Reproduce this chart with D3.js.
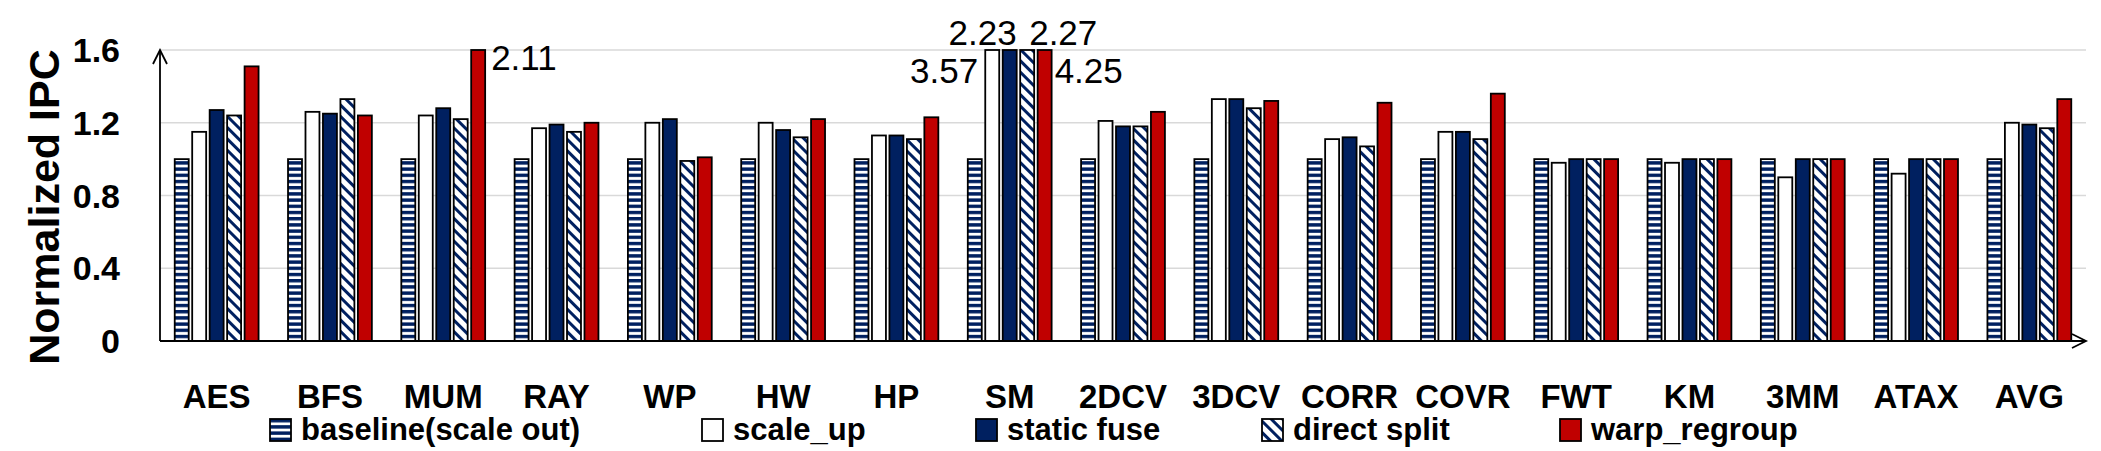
<!DOCTYPE html>
<html>
<head>
<meta charset="utf-8">
<script src="https://cdn.jsdelivr.net/npm/d3@7"></script>
<style>
  html, body { margin: 0; padding: 0; background: #fff; }
  svg { display: block; font-family: "Liberation Sans", Arial, sans-serif; }
</style>
</head>
<body>
<div id="chart"></div>
<script>
// benchmarks on the x axis
var categories = ["AES","BFS","MUM","RAY","WP","HW","HP","SM","2DCV","3DCV","CORR","COVR","FWT","KM","3MM","ATAX","AVG"];
var seriesNames = ["baseline(scale out)","scale_up","static fuse","direct split","warp_regroup"];
var yTicks = [0, 0.4, 0.8, 1.2, 1.6];

// normalized IPC
var baseline    = [1.00,1.00,1.00,1.00,1.00,1.00,1.00,1.00,1.00,1.00,1.00,1.00,1.00,1.00,1.00,1.00,1.00];
var scaleUp     = [1.15,1.26,1.24,1.17,1.20,1.20,1.13,3.57,1.21,1.33,1.11,1.15,0.98,0.98,0.90,0.92,1.20];
var staticFuse  = [1.27,1.25,1.28,1.19,1.22,1.16,1.13,2.23,1.18,1.33,1.12,1.15,1.00,1.00,1.00,1.00,1.19];
var directSplit = [1.24,1.33,1.22,1.15,0.99,1.12,1.11,2.27,1.18,1.28,1.07,1.11,1.00,1.00,1.00,1.00,1.17];
var warpRegroup = [1.51,1.24,2.11,1.20,1.01,1.22,1.23,4.25,1.26,1.32,1.31,1.36,1.00,1.00,1.00,1.00,1.33];

var seriesValues = [baseline, scaleUp, staticFuse, directSplit, warpRegroup];

var W = 2101, H = 451,
    plotL = 160, plotR = 2086, plotT = 50, plotB = 341,
    navy = "#002060", red = "#c00000";

var svg = d3.select("#chart").append("svg")
    .attr("width", W)
    .attr("height", H);

var defs = svg.append("defs");

// horizontal stripes for the baseline
var hp = defs.append("pattern").attr("id", "hstripe")
    .attr("patternUnits", "userSpaceOnUse")
    .attr("width", 8).attr("height", 6.2);
hp.append("rect").attr("width", 8).attr("height", 6.2).attr("fill", "#fff");
hp.append("rect").attr("y", 0).attr("width", 8).attr("height", 3.4).attr("fill", navy);

// diagonal stripes for direct split
var dp = defs.append("pattern").attr("id", "dstripe")
    .attr("patternUnits", "userSpaceOnUse")
    .attr("width", 8).attr("height", 8)
    .attr("patternTransform", "rotate(45)");
dp.append("rect").attr("width", 8).attr("height", 8).attr("fill", "#fff");
dp.append("rect").attr("width", 8).attr("height", 3).attr("fill", navy);

var fills = ["url(#hstripe)", "#fff", navy, "url(#dstripe)", red];

var x0 = d3.scaleBand()
    .domain(categories)
    .range([plotL, plotR])
    .paddingInner(0.26)
    .paddingOuter(0.13);

var x1 = d3.scaleBand()
    .domain(d3.range(seriesNames.length))
    .range([0, x0.bandwidth()])
    .paddingInner(0.2);

var y = d3.scaleLinear()
    .domain([0, 1.6])
    .range([plotB, plotT])
    .clamp(true);

// gridlines
svg.append("g")
    .selectAll("line")
    .data(yTicks.filter(function(d) { return d > 0; }))
    .enter().append("line")
    .attr("x1", plotL).attr("x2", plotR)
    .attr("y1", function(d) { return y(d); })
    .attr("y2", function(d) { return y(d); })
    .attr("stroke", "#d9d9d9")
    .attr("stroke-width", 1.5);

// y tick labels
svg.append("g")
    .selectAll("text")
    .data(yTicks)
    .enter().append("text")
    .attr("x", 120)
    .attr("y", function(d) { return y(d); })
    .attr("dy", "0.36em")
    .attr("text-anchor", "end")
    .attr("font-size", 34)
    .attr("font-weight", "bold")
    .text(function(d) { return d === 0 ? "0" : d3.format(".1f")(d); });

// y title
svg.append("text")
    .attr("transform", "translate(59,207) rotate(-90)")
    .attr("text-anchor", "middle")
    .attr("font-size", 43)
    .attr("font-weight", "bold")
    .text("Normalized IPC");

// bars
var rows = [];
categories.forEach(function(c, i) {
    seriesValues.forEach(function(vals, s) {
        rows.push({cat: c, s: s, value: vals[i]});
    });
});

svg.append("g")
    .selectAll("rect")
    .data(rows)
    .enter().append("rect")
    .attr("x", function(d) { return x0(d.cat) + x1(d.s); })
    .attr("y", function(d) { return y(d.value); })
    .attr("width", x1.bandwidth())
    .attr("height", function(d) { return plotB - y(d.value); })
    .attr("fill", function(d) { return fills[d.s]; })
    .attr("stroke", "#000")
    .attr("stroke-width", 1.8);

// axes with open arrowheads
var axis = svg.append("g").attr("fill", "none").attr("stroke", "#000").attr("stroke-width", 1.8);
axis.append("line").attr("x1", plotL).attr("y1", plotB).attr("x2", plotL).attr("y2", plotT);
axis.append("path").attr("d", "M" + (plotL - 7) + "," + (plotT + 14) + "L" + plotL + "," + plotT + "L" + (plotL + 7) + "," + (plotT + 14));
axis.append("line").attr("x1", plotL).attr("y1", plotB).attr("x2", plotR).attr("y2", plotB);
axis.append("path").attr("d", "M" + (plotR - 14) + "," + (plotB - 7) + "L" + plotR + "," + plotB + "L" + (plotR - 14) + "," + (plotB + 7));

// x labels
svg.append("g")
    .selectAll("text")
    .data(categories)
    .enter().append("text")
    .attr("x", function(d) { return x0(d) + x0.bandwidth() / 2; })
    .attr("y", 408)
    .attr("text-anchor", "middle")
    .attr("font-size", 33)
    .attr("font-weight", "bold")
    .text(function(d) { return d; });

// labels for the bars cut off at 1.6
var cutLabels = [
    {cat: "MUM", s: 4, dx: 13, y: 70, anchor: "start"},
    {cat: "SM", s: 1, dx: -14, y: 83, anchor: "end"},
    {cat: "SM", s: 2, dx: 7, y: 45, anchor: "end"},
    {cat: "SM", s: 3, dx: 2, y: 45, anchor: "start"},
    {cat: "SM", s: 4, dx: 10, y: 83, anchor: "start"}
];
svg.append("g")
    .selectAll("text")
    .data(cutLabels)
    .enter().append("text")
    .attr("x", function(d) { return x0(d.cat) + x1(d.s) + x1.bandwidth() / 2 + d.dx; })
    .attr("y", function(d) { return d.y; })
    .attr("text-anchor", function(d) { return d.anchor; })
    .attr("font-size", 35)
    .text(function(d) { return seriesValues[d.s][categories.indexOf(d.cat)].toFixed(2); });

// legend
var legendX = [270, 702, 976, 1262, 1560];
var legend = svg.append("g")
    .selectAll("g")
    .data(seriesNames)
    .enter().append("g")
    .attr("transform", function(d, i) { return "translate(" + legendX[i] + ",419)"; });
legend.append("rect")
    .attr("width", 21).attr("height", 22)
    .attr("fill", function(d, i) { return fills[i]; })
    .attr("stroke", "#000")
    .attr("stroke-width", 1.8);
legend.append("text")
    .attr("x", 31).attr("y", 21)
    .attr("font-size", 31)
    .attr("font-weight", "bold")
    .text(function(d) { return d; });
</script>
</body>
</html>
